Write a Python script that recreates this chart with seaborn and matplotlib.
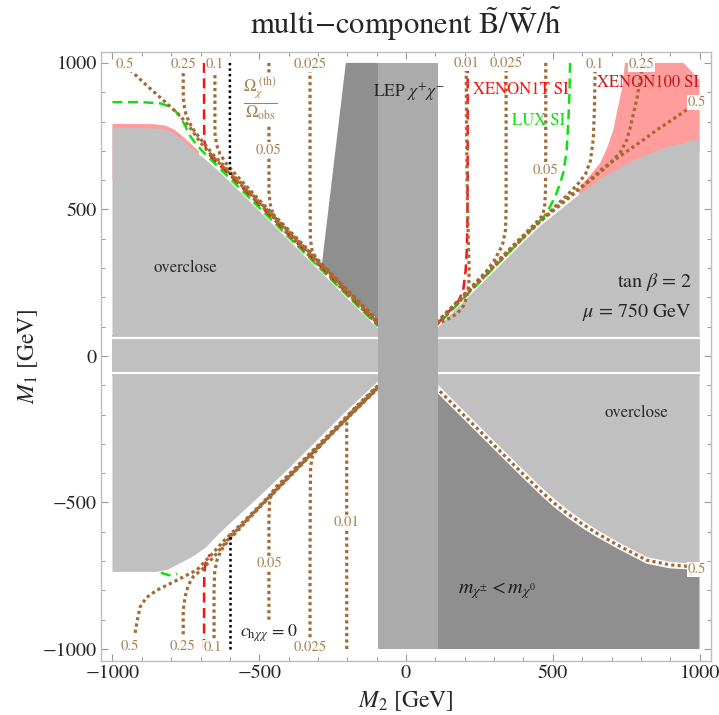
import numpy as np
import pandas as pd
import matplotlib
matplotlib.use("Agg")
import matplotlib.pyplot as plt
from matplotlib.ticker import MultipleLocator
import seaborn as sns

# ---------------- data: region boundaries (M2, M1) in GeV ----------------
gray_ul = [(-1000, 778), (-860, 777), (-820, 772), (-790, 758), (-765, 738), (-740, 716),
           (-710, 692), (-680, 667), (-650, 641), (-600, 594), (-500, 495), (-400, 395),
           (-300, 296), (-200, 196), (-90, 88)]
gray_ur = [(100, 88), (200, 189), (300, 289), (400, 389), (460, 446), (520, 494), (604, 562),
           (680, 615), (774, 667), (888, 713), (1000, 740)]
gray_ll = [(-1000, -737), (-850, -737), (-810, -729), (-770, -708), (-720, -681), (-680, -652),
           (-640, -610), (-600, -572), (-500, -480), (-400, -385), (-300, -285), (-200, -185),
           (-90, -82)]
gray_lr = [(100, -90), (200, -190), (300, -290), (400, -389), (460, -447), (502, -485),
           (550, -524), (600, -560), (650, -593), (720, -634), (820, -686), (900, -703),
           (1000, -710)]
dark_lr = [(100, -120), (200, -219), (300, -319), (400, -418), (460, -476), (502, -514),
           (550, -552), (600, -587), (650, -618), (720, -657), (820, -709), (900, -725),
           (1000, -730)]
dark_wedge = [(-205, 1000), (-95, 1000), (-95, 124), (-287, 310)]
lep_band = (-95, 108)
xenon100_region = [(590, 560), (604, 590), (630, 620), (661, 658), (685, 710), (706, 771),
                   (720, 840), (735, 908), (740, 950), (746, 1000), (945, 1000), (1000, 942),
                   (1000, 700), (800, 600), (590, 540)]
xenon100_strip = [(-1000, 792), (-860, 791), (-820, 786), (-790, 773), (-765, 753),
                  (-740, 731), (-720, 712), (-705, 698), (-705, 600), (-1000, 600)]
white_gaps = [61, -58]

# ---------------- data: relic-fraction contours ----------------
omega_curves = {
    "ul_0.5": [(-940, 976), (-880, 920), (-815, 862), (-770, 820), (-736, 780), (-700, 728),
               (-660, 682), (-600, 622), (-500, 521), (-400, 421), (-300, 320), (-200, 219),
               (-95, 113)],
    "ul_0.25": [(-759, 965), (-759, 900), (-757, 860), (-750, 826), (-738, 796), (-720, 766),
                (-695, 734), (-660, 690), (-600, 628), (-500, 526), (-400, 425), (-300, 324),
                (-200, 223), (-95, 117)],
    "ul_0.1": [(-651, 980), (-651, 850), (-651, 760), (-645, 720), (-634, 690), (-615, 660),
               (-590, 630), (-500, 532), (-400, 430), (-300, 328), (-200, 226), (-95, 120)],
    "ul_0.05": [(-467, 1000), (-467, 700), (-467, 560), (-463, 520), (-452, 480), (-435, 450),
                (-400, 413), (-300, 312), (-200, 211), (-95, 106)],
    "ul_0.025": [(-327, 1000), (-327, 600), (-326, 400), (-320, 360), (-305, 330),
                 (-285, 308), (-200, 220), (-95, 114)],
    "ur_0.01": [(205, 1000), (206, 800), (208, 600), (212, 400), (215, 300), (214, 245),
                (207, 200), (195, 170), (175, 145), (150, 130), (125, 118), (100, 108)],
    "ur_0.025": [(341, 1000), (341, 700), (341, 500), (339, 430), (330, 385), (320, 362),
                 (300, 325), (275, 290), (240, 253), (200, 211), (150, 160), (100, 108)],
    "ur_0.05": [(476, 1000), (476, 850), (476, 700), (475, 560), (472, 505), (463, 478),
                (450, 462), (420, 432), (350, 362), (250, 262), (150, 160), (100, 110)],
    "ur_0.1": [(644, 975), (642, 850), (638, 740), (628, 665), (612, 622), (590, 592),
               (565, 565), (540, 540), (513, 515), (480, 482), (400, 404), (300, 305),
               (200, 204), (100, 103)],
    "ur_0.25": [(803, 975), (797, 940), (787, 880), (775, 828), (764, 780), (752, 737),
                (730, 695), (706, 669), (680, 643), (661, 627), (635, 605), (610, 585),
                (580, 560), (540, 527), (500, 494), (460, 462), (400, 406), (300, 307),
                (200, 206), (100, 106)],
    "ur_0.5": [(956, 840), (905, 805), (854, 771), (815, 742), (775, 714), (735, 686),
               (695, 658), (660, 632), (627, 601), (600, 580), (560, 548), (520, 514),
               (480, 480), (400, 408), (300, 309), (200, 208), (100, 107)],
    "ll_0.5": [(-923, -945), (-915, -900), (-906, -857), (-885, -825), (-848, -799),
               (-780, -765), (-712, -730), (-660, -675), (-620, -630), (-560, -572),
               (-500, -512), (-400, -410), (-300, -309), (-200, -208), (-95, -105)],
    "ll_0.25": [(-759, -950), (-759, -900), (-759, -867), (-753, -825), (-747, -799),
                (-735, -770), (-725, -753), (-691, -725), (-650, -680), (-600, -618),
                (-500, -516), (-400, -414), (-300, -312), (-200, -211), (-95, -108)],
    "ll_0.1": [(-654, -985), (-654, -900), (-654, -800), (-652, -741), (-645, -700),
               (-633, -670), (-622, -651), (-600, -625), (-500, -518), (-400, -416),
               (-300, -314), (-200, -213), (-95, -110)],
    "ll_0.05": [(-467, -900), (-467, -700), (-467, -560), (-465, -500), (-458, -469),
                (-445, -448), (-420, -425), (-350, -355), (-250, -255), (-150, -153),
                (-95, -100)],
    "ll_0.025": [(-327, -960), (-327, -700), (-326, -450), (-325, -378), (-318, -340),
                 (-304, -321), (-280, -293), (-200, -211), (-95, -106)],
    "ll_0.01": [(-202, -1000), (-202, -700), (-202, -300), (-202, -218), (-195, -203),
                (-180, -184), (-150, -158), (-95, -102)],
    "lr_0.5": [(100, -105), (200, -205), (300, -305), (400, -404), (460, -462), (502, -500),
               (550, -538), (600, -573), (650, -605), (720, -645), (820, -697), (900, -713),
               (985, -720)],
}

# ---------------- data: direct-detection limits and c_hXX = 0 ----------------
xenon1t_curves = [
    [(-688, 1000), (-688, 900), (-688, 800), (-687, 735), (-680, 700), (-662, 678),
     (-600, 617), (-500, 516), (-400, 415), (-300, 315), (-200, 214), (-95, 109)],
    [(210, 1000), (210, 800), (210, 600), (209, 450), (207, 360), (203, 290), (195, 225),
     (180, 190), (161, 168), (140, 145), (122, 125), (100, 105)],
    [(-688, -1000), (-688, -900), (-688, -800), (-687, -740), (-684, -712), (-678, -692),
     (-668, -678)],
]
lux_curves = [
    [(-1000, 866), (-900, 866), (-838, 862), (-804, 851), (-785, 835), (-770, 817),
     (-752, 785), (-736, 752), (-715, 722), (-690, 695), (-600, 606), (-500, 506),
     (-400, 406), (-300, 306), (-200, 206), (-95, 101)],
    [(559, 1000), (557, 900), (553, 800), (547, 700), (537, 630), (525, 589), (510, 548),
     (491, 510), (470, 476), (450, 455), (400, 404), (300, 302), (200, 201), (100, 98)],
    [(-835, -740), (-808, -748), (-780, -744)],
]
zero_coupling_curves = [
    [(-600, 1000), (-600, 800), (-600, 640), (-598, 618)],
    [(-600, -1000), (-600, -800), (-600, -640), (-600, -605)],
]

# contour label text and positions
omega_labels = [("0.5", -957, 995), ("0.25", -759, 995), ("0.1", -651, 995),
                ("0.05", -467, 703), ("0.025", -327, 995),
                ("0.01", 207, 997), ("0.025", 340, 997), ("0.05", 476, 635),
                ("0.1", 642, 995), ("0.25", 803, 995), ("0.5", 991, 864),
                ("0.5", -940, -990), ("0.25", -760, -990), ("0.1", -657, -994),
                ("0.05", -466, -708), ("0.025", -327, -993), ("0.01", -202, -569),
                ("0.5", 991, -728)]

# ---------------- style ----------------
sns.set_theme(style="white")
plt.rcParams["font.family"] = ["STIXGeneral", "DejaVu Serif"]
plt.rcParams["mathtext.fontset"] = "stix"
plt.rcParams["axes.unicode_minus"] = True

LIGHT = "#C0C0C0"
LEPC = "#ABABAB"
DARK = "#8F8F8F"
PINK = "#FF9C9C"
BROWN = "#A26A34"
BROWN_TXT = "#A8804F"
RED = "#FF1010"
GREEN = "#10E010"
FRAME = "#BDBDBD"

fig = plt.figure(figsize=(7.19, 7.15), dpi=100)
ax = fig.add_axes([0.1405, 0.0755, 0.8484, 0.8517])
ax.set_xlim(-1039, 1039)
ax.set_ylim(-1041, 1037)


def fill_poly(pts, color, z):
    arr = np.array(pts, dtype=float)
    ax.fill(arr[:, 0], arr[:, 1], color=color, lw=0, zorder=z)


def closed_to_axis(boundary, base):
    pts = [(boundary[0][0], base)] + list(boundary) + [(boundary[-1][0], base)]
    return pts


# excluded by XENON100 (drawn beneath the gray)
fill_poly(xenon100_region, PINK, 1)
fill_poly(xenon100_strip, PINK, 1)

# overclosure regions
fill_poly(closed_to_axis(gray_ul, 0), LIGHT, 2)
fill_poly(closed_to_axis(gray_ur, 0), LIGHT, 2)
fill_poly(closed_to_axis(gray_ll, 0), LIGHT, 2)
fill_poly(closed_to_axis(gray_lr, 0), LIGHT, 2)
fill_poly([(-1000, -70), (-1000, 70), (1000, 70), (1000, -70)], LIGHT, 2)
ax.hlines(white_gaps, -1000, 1000, colors="white", lw=1.6, zorder=2.1)

# chargino lighter than neutralino, and the dark wedge
fill_poly(closed_to_axis(dark_lr, -1000), DARK, 2)
fill_poly(dark_wedge, DARK, 2)

# LEP chargino bound
fill_poly([(lep_band[0], -1000), (lep_band[0], 1000), (lep_band[1], 1000),
           (lep_band[1], -1000)], LEPC, 4)


def draw_curve(pts, color, lw, dashes, z):
    df = pd.DataFrame(pts, columns=["M2", "M1"])
    sns.lineplot(data=df, x="M2", y="M1", sort=False, estimator=None, color=color,
                 lw=lw, ax=ax, zorder=z)
    line = ax.lines[-1]
    line.set_dashes(dashes)
    line.set_dash_capstyle("butt")
    line.set_zorder(z)


for pts in lux_curves:
    draw_curve(pts, GREEN, 1.8, (4.0, 2.2), 2.8)
for pts in xenon1t_curves:
    draw_curve(pts, RED, 1.8, (4.0, 2.2), 2.9)
for key, pts in omega_curves.items():
    draw_curve(pts, BROWN, 2.3, (1.0, 1.0), 3)
for pts in zero_coupling_curves:
    draw_curve(pts, "black", 1.8, (1.0, 1.2), 3.1)

for txt, x, y in omega_labels:
    ax.text(x, y, txt, color=BROWN_TXT, fontsize=10.5, ha="center", va="center", zorder=5,
            bbox=dict(facecolor="white", edgecolor="none", pad=0.6))

ax.text(-497, 877, r"$\frac{\Omega_{\chi}^{\ (\mathrm{th})}}{\Omega_{\mathrm{obs}}}$",
        color=BROWN_TXT, fontsize=17, ha="center", va="center", zorder=5,
        bbox=dict(facecolor="white", edgecolor="none", pad=1.0))

# region and limit annotations
ax.text(-750, 300, "overclose", fontsize=12, ha="center", va="center", zorder=6)
ax.text(784, -195, "overclose", fontsize=12, ha="center", va="center", zorder=6)
ax.text(974, 252, r"tan $\beta$ = 2", fontsize=14.5, ha="right", va="center", zorder=6)
ax.text(974, 150, r"$\mu$ = 750 GeV", fontsize=14.5, ha="right", va="center", zorder=6)
ax.text(-112, 897, r"LEP $\chi^{+}\chi^{-}$", fontsize=12.5, ha="left", va="center", zorder=6)
ax.text(228, 908, "XENON1T SI", color=RED, fontsize=12, ha="left", va="center", zorder=6)
ax.text(361, 802, "LUX SI", color=GREEN, fontsize=12, ha="left", va="center", zorder=6)
ax.text(650, 932, "XENON100 SI", color="#C41A1A", fontsize=12, ha="left", va="center",
        zorder=6)
ax.text(-565, -945, r"$c_{\mathrm{h}\chi\chi}$ = 0", fontsize=13, ha="left", va="center",
        zorder=6)
ax.text(177, -799, r"$m_{\chi^{\pm}} < m_{\chi^{0}}$", fontsize=14.5, ha="left",
        va="center", color="#1A1A1A", zorder=6)

# axes, ticks and frame
ax.set_title(r"multi$-$component $\tilde{\mathrm{B}}/\tilde{\mathrm{W}}/\tilde{\mathrm{h}}$",
             fontsize=22, pad=13)
ax.set_xlabel(r"$M_2$ [GeV]", fontsize=17, labelpad=5)
ax.set_ylabel(r"$M_1$ [GeV]", fontsize=17, labelpad=2)
for a in (ax.xaxis, ax.yaxis):
    a.set_major_locator(MultipleLocator(500))
    a.set_minor_locator(MultipleLocator(100))
ax.tick_params(which="both", direction="in", top=True, right=True, bottom=True, left=True,
               color="#9A9A9A", labelsize=14.5)
ax.tick_params(which="major", length=5, width=0.8, pad=3)
ax.tick_params(which="minor", length=2.6, width=0.7)
for s in ax.spines.values():
    s.set_color(FRAME)
    s.set_linewidth(1.0)
ax.grid(False)

fig.savefig("out.png", dpi=100, facecolor="white")
